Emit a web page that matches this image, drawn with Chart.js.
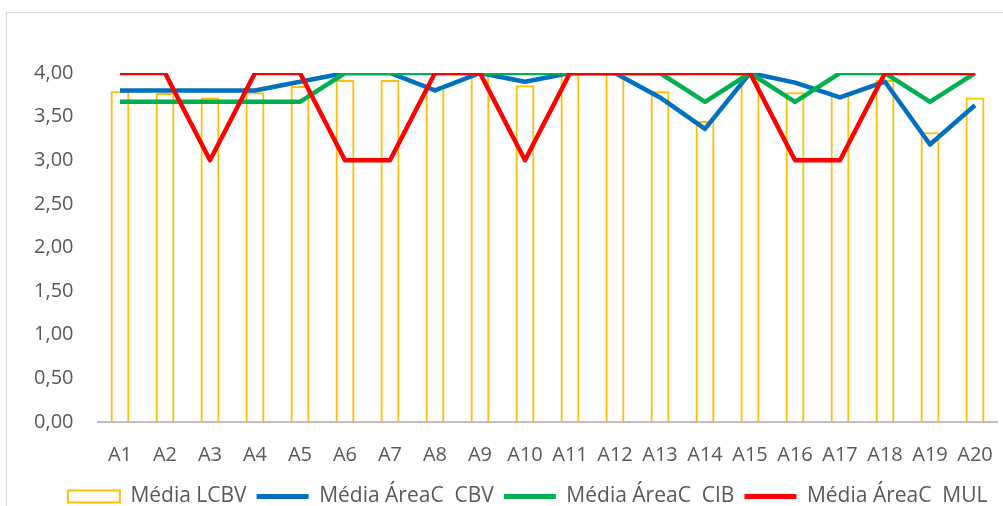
<!DOCTYPE html>
<html>
<head>
<meta charset="utf-8">
<script src="https://cdn.jsdelivr.net/npm/chart.js@4/dist/chart.umd.min.js"></script>
<style>
  html, body { margin: 0; padding: 0; background: #fff; overflow: hidden; }
  #wrap { width: 1003px; height: 517px; position: relative; }
</style>
</head>
<body>
<div id="wrap"><canvas id="myChart"></canvas></div>
<script>
const labels = ['A1','A2','A3','A4','A5','A6','A7','A8','A9','A10',
                'A11','A12','A13','A14','A15','A16','A17','A18','A19','A20'];

const mediaLCBV = [3.79, 3.77, 3.72, 3.78, 3.85, 3.92, 3.92, 3.83, 4.00, 3.86,
                   4.00, 4.00, 3.79, 3.45, 4.00, 3.78, 3.75, 3.92, 3.32, 3.72];
const mediaCBV  = [3.80, 3.80, 3.80, 3.80, 3.90, 4.00, 4.00, 3.80, 4.00, 3.90,
                   4.00, 4.00, 3.72, 3.36, 4.00, 3.89, 3.72, 3.90, 3.18, 3.63];
const mediaCIB  = [3.67, 3.67, 3.67, 3.67, 3.67, 4.00, 4.00, 4.00, 4.00, 4.00,
                   4.00, 4.00, 4.00, 3.67, 4.00, 3.67, 4.00, 4.00, 3.67, 4.00];
const mediaMUL  = [4, 4, 3, 4, 4, 3, 3, 4, 4, 3,
                   4, 4, 4, 4, 4, 3, 3, 4, 4, 4];

const txt = '#595959';
const tickFont = { family: 'Open Sans', size: 20 };
const legendFont = { family: 'Open Sans', size: 21 };

// light frame round the chart (the reference is a crop of a framed Excel chart)
const framePlugin = {
  id: 'frame',
  beforeDraw(chart) {
    const c = chart.ctx;
    c.save();
    c.strokeStyle = '#d9d9d9';
    c.lineWidth = 1;
    c.strokeRect(6.5, 12.5, 1200, 700);
    c.restore();
  }
};

const ctx = document.querySelector('#myChart').getContext('2d');

const myChart = new Chart(ctx, {
  data: {
    labels: labels,
    datasets: [
      {
        type: 'bar',
        label: 'Média LCBV',
        data: mediaLCBV,
        backgroundColor: 'rgba(255,255,255,0)',
        borderColor: '#FFC000',
        borderWidth: 2,
        barPercentage: 0.42,
        categoryPercentage: 1,
        order: 4,
      },
      {
        type: 'line',
        label: 'Média ÁreaC  CBV',
        data: mediaCBV,
        borderColor: '#0070C0',
        borderWidth: 4.5,
        pointRadius: 0,
        tension: 0,
        borderJoinStyle: 'round',
        order: 3,
      },
      {
        type: 'line',
        label: 'Média ÁreaC  CIB',
        data: mediaCIB,
        borderColor: '#00B050',
        borderWidth: 4.5,
        pointRadius: 0,
        tension: 0,
        borderJoinStyle: 'round',
        order: 2,
      },
      {
        type: 'line',
        label: 'Média ÁreaC  MUL',
        data: mediaMUL,
        borderColor: '#FF0000',
        borderWidth: 4.5,
        pointRadius: 0,
        tension: 0,
        borderJoinStyle: 'round',
        order: 1,
      },
    ],
  },
  options: {
    responsive: true,
    maintainAspectRatio: false,
    animation: false,
    layout: {
      padding: { left: 0, right: 5.5, top: 73, bottom: 0 }
    },
    plugins: {
      tooltip: { enabled: false },
      legend: {
        position: 'bottom',
        align: 'end',
        labels: {
          color: txt,
          font: legendFont,
          usePointStyle: true,
          pointStyleWidth: 52,
          boxHeight: 12,
          padding: 10,
          generateLabels(chart) {
            return chart.data.datasets.map((ds, i) => ({
              text: ds.label,
              fillStyle: ds.type === 'bar' ? '#fff' : ds.borderColor,
              strokeStyle: ds.borderColor,
              lineWidth: ds.type === 'bar' ? 2 : 5,
              pointStyle: ds.type === 'bar' ? 'rect' : 'line',
              fontColor: txt,
              hidden: false,
              datasetIndex: i,
            }));
          }
        }
      }
    },
    scales: {
      x: {
        grid: { display: false, drawTicks: false },
        border: { display: true, color: '#bfbfbf', width: 2 },
        ticks: { color: txt, font: tickFont, padding: 21, maxRotation: 0 },
        afterFit(scale) {
          scale.height = 54;
          scale.paddingLeft = 0;
          scale.paddingRight = 0;
        },
      },
      y: {
        min: 0,
        max: 4,
        grid: { display: false, drawTicks: false },
        border: { display: false },
        ticks: {
          color: txt,
          font: tickFont,
          stepSize: 0.5,
          padding: 24,
          callback: (v) => v.toFixed(2).replace('.', ','),
        },
        afterFit(scale) { scale.width = 97.5; },
      }
    },
  },
  plugins: [framePlugin],
});
</script>
</body>
</html>
